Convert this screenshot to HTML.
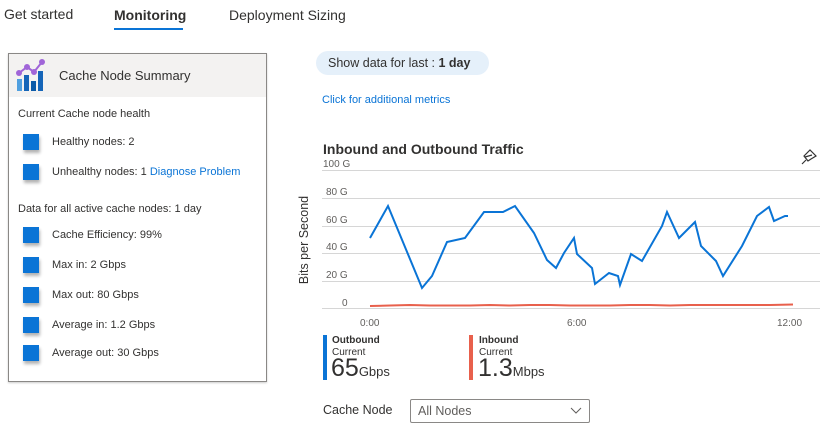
<!DOCTYPE html>
<html><head><meta charset="utf-8"><style>
body{margin:0;width:824px;height:428px;background:#fff;font-family:"Liberation Sans",sans-serif;color:#323130;position:relative;overflow:hidden}
.a{position:absolute;white-space:nowrap}
.sq{position:absolute;width:16px;height:16px;background:#0a74d6;box-shadow:1px 3px 3px rgba(0,0,0,.3);left:23px}
.t{position:absolute;font-size:11px;left:52px}
</style></head><body>
<div class="a" style="left:4px;top:6px;font-size:14px">Get started</div>
<div class="a" style="left:114px;top:7px;font-size:14px;font-weight:bold">Monitoring</div>
<div class="a" style="left:114px;top:28px;width:69px;height:2px;background:#0a74d6"></div>
<div class="a" style="left:229px;top:7px;font-size:14px">Deployment Sizing</div>

<div class="a" style="left:8px;top:53px;width:257px;height:327px;border:1px solid #8a8886;box-shadow:0 1px 2px rgba(0,0,0,.2)"></div>
<div class="a" style="left:9px;top:54px;width:257px;height:43px;background:#f3f2f1"></div>
<svg class="a" style="left:15px;top:59px" width="32" height="34">
<rect x="2" y="20" width="5" height="12" fill="#50a0e0"/><rect x="9" y="16" width="5" height="16" fill="#1565b8"/><rect x="16" y="22" width="5" height="10" fill="#0b5aa8"/><rect x="23" y="12" width="5" height="20" fill="#1565b8"/>
<polyline points="4,14 12,8 19,13 27,3" fill="none" stroke="#a065d8" stroke-width="2"/>
<circle cx="4" cy="14" r="3" fill="#a065d8"/><circle cx="12" cy="8" r="3" fill="#a065d8"/><circle cx="19" cy="13" r="3" fill="#a065d8"/><circle cx="27" cy="3" r="3" fill="#a065d8"/></svg>
<div class="a" style="left:59px;top:68px;font-size:13px">Cache Node Summary</div>
<div class="a" style="left:18px;top:108px;font-size:11px">Current Cache node health</div>
<div class="sq" style="top:134px"></div><div class="t" style="top:136px">Healthy nodes: 2</div>
<div class="sq" style="top:164px"></div><div class="t" style="top:166px">Unhealthy nodes: 1 <span style="color:#0a74d6">Diagnose Problem</span></div>
<div class="a" style="left:18px;top:203px;font-size:11px">Data for all active cache nodes: 1 day</div>
<div class="sq" style="top:227px"></div><div class="t" style="top:229px">Cache Efficiency: 99%</div>
<div class="sq" style="top:257px"></div><div class="t" style="top:259px">Max in: 2 Gbps</div>
<div class="sq" style="top:287px"></div><div class="t" style="top:289px">Max out: 80 Gbps</div>
<div class="sq" style="top:317px"></div><div class="t" style="top:319px">Average in: 1.2 Gbps</div>
<div class="sq" style="top:345px"></div><div class="t" style="top:347px">Average out: 30 Gbps</div>

<div class="a" style="left:316px;top:51px;width:173px;height:24px;border-radius:12px;background:#e5f0fa"></div>
<div class="a" style="left:328px;top:56px;font-size:12.5px">Show data for last : <b>1 day</b></div>
<div class="a" style="left:322px;top:94px;font-size:11px;color:#0a74d6">Click for additional metrics</div>

<div class="a" style="left:323px;top:141px;font-size:14px;font-weight:bold">Inbound and Outbound Traffic</div>
<svg class="a" style="left:0;top:0" width="824" height="428">
<g stroke="#d6d6d6" stroke-width="1">
<line x1="322" y1="170.5" x2="820" y2="170.5"/><line x1="322" y1="198.5" x2="820" y2="198.5"/><line x1="322" y1="226.5" x2="820" y2="226.5"/><line x1="322" y1="253.5" x2="820" y2="253.5"/><line x1="322" y1="281.5" x2="820" y2="281.5"/><line x1="322" y1="308.5" x2="820" y2="308.5"/></g>
<g font-size="10" fill="#605e5c" font-family="Liberation Sans,sans-serif">
<text x="323" y="167">100 G</text><text x="326" y="195">80 G</text><text x="326" y="223">60 G</text><text x="326" y="250">40 G</text><text x="326" y="278">20 G</text><text x="342" y="306">0</text>
<text x="360" y="326">0:00</text><text x="567" y="326">6:00</text><text x="777" y="326">12:00</text></g>
<text transform="translate(308,240) rotate(-90)" text-anchor="middle" font-size="12.5" fill="#323130" font-family="Liberation Sans,sans-serif">Bits per Second</text>
<polyline fill="none" stroke="#e8604c" stroke-width="2" points="370,306 390,305.5 410,305 430,305.5 450,305.5 470,305.5 490,305 510,305.5 530,305 550,305 570,305.5 590,305.5 610,305.5 630,305 650,305 670,305.5 690,305 710,305 730,305 750,305 770,305 793,304.5"/>
<polyline fill="none" stroke="#0a74d6" stroke-width="2" points="370,238 388,206 422,288 432,276 447,242 465,238 484,212 503,212 515,206 534,233 547,260 556,268 564,253 574,238 577,254 592,268 595,284 609,273 618,276 620,285 631,254 642,261 662,226 667,212 679,238 695,222 701,246 716,261 723,276 742,246 757,216 769,207 774,221 785,216 788,216"/>
<g fill="none" stroke="#333" stroke-width="1.2"><path d="M808 161 L804 156 L810 150 L816 156 L811 159 Z M805 157 L812 155 M806 160 L802 164"/></g>
</svg>

<div class="a" style="left:323px;top:335px;width:4px;height:45px;background:#0a74d6"></div>
<div class="a" style="left:332px;top:335px;font-size:10px;font-weight:bold">Outbound</div>
<div class="a" style="left:332px;top:347px;font-size:10px">Current</div>
<div class="a" style="left:331px;top:354px;font-size:25px">65<span style="font-size:13px">Gbps</span></div>
<div class="a" style="left:469px;top:335px;width:4px;height:45px;background:#e8604c"></div>
<div class="a" style="left:479px;top:335px;font-size:10px;font-weight:bold">Inbound</div>
<div class="a" style="left:479px;top:347px;font-size:10px">Current</div>
<div class="a" style="left:478px;top:354px;font-size:25px">1.3<span style="font-size:13px">Mbps</span></div>

<div class="a" style="left:323px;top:403px;font-size:12.5px">Cache Node</div>
<div class="a" style="left:410px;top:399px;width:178px;height:22px;border:1px solid #8a8886;border-radius:2px"></div>
<div class="a" style="left:418px;top:404px;font-size:12.5px;color:#605e5c">All Nodes</div>
<svg class="a" style="left:570px;top:407px" width="12" height="8"><polyline points="1,1 6,6 11,1" fill="none" stroke="#605e5c" stroke-width="1"/></svg>
</body></html>
